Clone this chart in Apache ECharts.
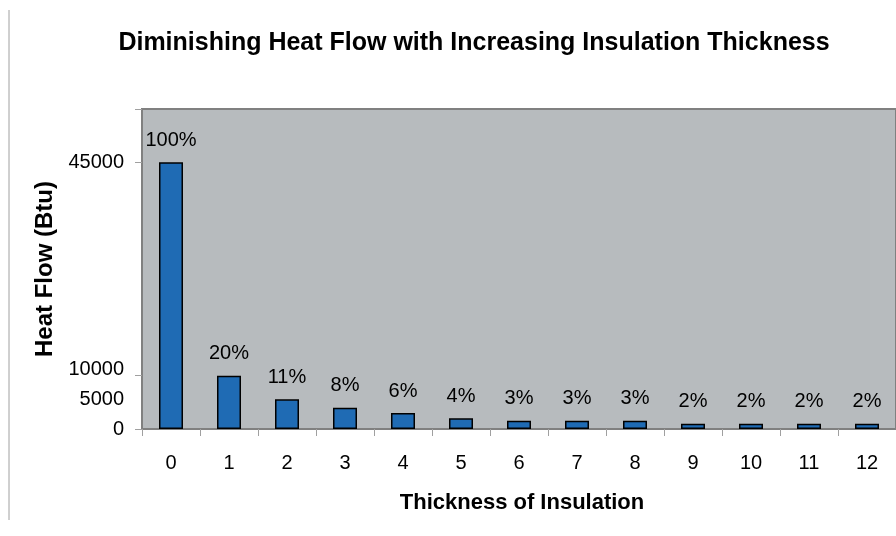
<!DOCTYPE html>
<html>
<head>
<meta charset="utf-8">
<script src="https://cdn.jsdelivr.net/npm/echarts@6/dist/echarts.min.js"></script>
<style>
html,body{margin:0;padding:0;background:#fff;}
#chart{width:896px;height:536px;}
</style>
</head>
<body>
<div id="chart"></div>
<script>
const categories = ['0','1','2','3','4','5','6','7','8','9','10','11','12'];
const heatFlow = [45000, 9000, 5000, 3600, 2700, 1800, 1400, 1400, 1400, 900, 900, 900, 900];
const percentLabels = ['100%','20%','11%','8%','6%','4%','3%','3%','3%','2%','2%','2%','2%'];
const yLabelValues = [0, 5000, 10000, 45000];
const yTickValues = [0, 9000, 45000, 54000];

const chart = echarts.init(document.getElementById('chart'), null, {renderer: 'canvas'});
const font = 'Liberation Sans, Arial, sans-serif';
chart.setOption({
  animation: false,
  textStyle: {fontFamily: font},
  title: {
    text: 'Diminishing Heat Flow with Increasing Insulation Thickness',
    left: 469, top: 26, textAlign: 'center',
    textStyle: {fontFamily: font, fontSize: 25, fontWeight: 'bold', color: '#000'}
  },
  graphic: [{
    type: 'line', shape: {x1: 9, y1: 10, x2: 9, y2: 520},
    style: {stroke: '#a0a0a0', lineWidth: 1}
  }],
  grid: {
    left: 142, top: 109, right: -10.4, bottom: 107,
    show: true, backgroundColor: '#b7bbbe', borderColor: '#808080', borderWidth: 2
  },
  xAxis: {
    type: 'category', data: categories,
    name: 'Thickness of Insulation', nameLocation: 'middle', nameGap: 63,
    nameTextStyle: {fontFamily: font, fontSize: 22, fontWeight: 'bold', color: '#000', padding: [0, 0, 0, 6]},
    axisLine: {lineStyle: {color: '#808080', width: 1.5}},
    axisTick: {show: true, length: 7, lineStyle: {color: '#a0a0a0'}},
    axisLabel: {fontFamily: font, fontSize: 20, color: '#000', margin: 24}
  },
  yAxis: {
    type: 'value', min: 0, max: 54000,
    name: 'Heat Flow (Btu)', nameLocation: 'middle', nameGap: 84, nameRotate: 90,
    nameTextStyle: {fontFamily: font, fontSize: 24, fontWeight: 'bold', color: '#000'},
    axisLine: {show: false},
    splitLine: {show: false},
    axisTick: {show: true, length: 7, customValues: yTickValues, lineStyle: {color: '#a0a0a0'}},
    axisLabel: {fontFamily: font, fontSize: 20, color: '#000', margin: 18,
      customValues: yLabelValues, formatter: v => String(v)}
  },
  series: [{
    type: 'bar', data: heatFlow, barWidth: 24,
    itemStyle: {color: '#1f6bb4', borderColor: '#000', borderWidth: 1.5},
    label: {
      show: true, position: 'top', distance: 12,
      fontFamily: font, fontSize: 20, color: '#000',
      formatter: p => percentLabels[p.dataIndex]
    }
  }]
});
</script>
</body>
</html>
